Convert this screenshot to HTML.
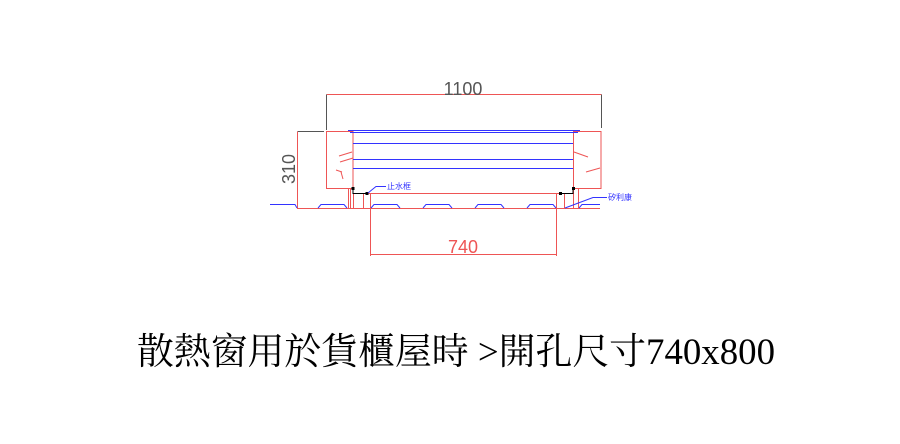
<!DOCTYPE html>
<html><head><meta charset="utf-8"><style>
html,body{margin:0;padding:0;background:#fff;width:900px;height:444px;overflow:hidden}
svg{display:block}
</style></head><body>
<svg width="900" height="444" viewBox="0 0 900 444" xmlns="http://www.w3.org/2000/svg">
<g fill="none" stroke-width="1">
<!-- dimension 1100 -->
<line x1="326.5" y1="94.5" x2="601.5" y2="94.5" stroke="#e55"/>
<line x1="326.5" y1="94.5" x2="326.5" y2="130" stroke="#555"/>
<line x1="601.5" y1="94.5" x2="601.5" y2="128" stroke="#555"/>
<!-- dimension 310 -->
<line x1="297.5" y1="131.5" x2="324" y2="131.5" stroke="#555"/>
<line x1="297.5" y1="131.5" x2="297.5" y2="208" stroke="#e55"/>
<line x1="297" y1="208.5" x2="340" y2="208.5" stroke="#555"/>
<!-- left box -->
<rect x="326.5" y="131.5" width="26.5" height="57" stroke="#e55"/>
<line x1="339" y1="156" x2="352" y2="152" stroke="#e55"/>
<line x1="336" y1="170" x2="342" y2="172" stroke="#e55"/>
<line x1="341" y1="172" x2="343" y2="179" stroke="#e55"/>
<line x1="353" y1="158" x2="340" y2="162" stroke="#e55"/>
<!-- right box -->
<rect x="573.5" y="131.5" width="27.5" height="57" stroke="#e55"/>
<line x1="574" y1="152" x2="588" y2="157" stroke="#e55"/>
<line x1="586" y1="172" x2="600" y2="168" stroke="#e55"/>
<!-- blue body lines -->
<line x1="348" y1="130.5" x2="580" y2="130.5" stroke="#33f"/>
<line x1="350" y1="132.5" x2="578" y2="132.5" stroke="#33f"/>
<line x1="353" y1="143.5" x2="573" y2="143.5" stroke="#33f"/>
<line x1="353" y1="159.5" x2="573" y2="159.5" stroke="#33f"/>
<line x1="353" y1="168.5" x2="573" y2="168.5" stroke="#33f"/>
<!-- opening frame -->
<line x1="353" y1="193.5" x2="573" y2="193.5" stroke="#e55"/>
<line x1="297" y1="208.5" x2="600" y2="208.5" stroke="#e55"/>
<line x1="348.5" y1="188" x2="348.5" y2="208" stroke="#e55"/>
<line x1="350.5" y1="188" x2="350.5" y2="208" stroke="#e55"/>
<line x1="353.5" y1="193" x2="353.5" y2="208" stroke="#e55"/>
<line x1="363.5" y1="193" x2="363.5" y2="208" stroke="#e55"/>
<line x1="370.5" y1="193" x2="370.5" y2="256" stroke="#e55"/>
<line x1="556.5" y1="193" x2="556.5" y2="256" stroke="#e55"/>
<line x1="564.5" y1="193" x2="564.5" y2="208" stroke="#e55"/>
<line x1="573.5" y1="188" x2="573.5" y2="208" stroke="#e55"/>
<line x1="578.5" y1="188" x2="578.5" y2="208" stroke="#e55"/>
<!-- black brackets -->
<polyline points="353,188 353,193.5 367,193.5" stroke="#000"/>
<polyline points="560,193.5 573,193.5 573,188" stroke="#000"/>
<rect x="351.5" y="187" width="3" height="3" fill="#000" stroke="none"/>
<rect x="365.5" y="192" width="3" height="3" fill="#000" stroke="none"/>
<rect x="559" y="192" width="3" height="3" fill="#000" stroke="none"/>
<rect x="572" y="187" width="3" height="3" fill="#000" stroke="none"/>
<!-- roof profile blue -->
<polyline points="270,204.5 295,204.5 297,208" stroke="#33f"/>
<polyline points="318,208 321,204.5 344,204.5 347,208" stroke="#33f"/>
<polyline points="371,208 374,204.5 397,204.5 400,208" stroke="#33f"/>
<polyline points="423,208 426,204.5 449,204.5 452,208" stroke="#33f"/>
<polyline points="475,208 478,204.5 501,204.5 504,208" stroke="#33f"/>
<polyline points="527,208 530,204.5 553,204.5 556,208" stroke="#33f"/>
<polyline points="579,208 582,204.5 600,204.5" stroke="#33f"/>
<!-- leaders -->
<polyline points="368,193 376,186.5 386,186.5" stroke="#33f"/>
<polyline points="565,208 593,197.5 607,197.5" stroke="#33f"/>
<!-- 740 dim -->
<line x1="370.5" y1="254.5" x2="556.5" y2="254.5" stroke="#e55"/>
</g>
<g font-family="Liberation Sans, sans-serif" font-weight="300" fill="#555">
<text x="463" y="95" font-size="18" text-anchor="middle">1100</text>
<text x="463" y="253" font-size="18" text-anchor="middle" fill="#e55">740</text>
<text transform="translate(297,169) rotate(-90)" font-size="18" text-anchor="middle" dy="-2">310</text>
</g>
<g font-family="Liberation Sans, 'Noto Sans CJK TC', sans-serif" font-size="8" fill="#33f">
<text x="387" y="189">止水框</text>
<text x="608" y="200">矽利康</text>
</g>
<text x="137" y="364" font-family="'Liberation Serif','Noto Serif CJK SC',serif" font-size="37" fill="#000" textLength="638" lengthAdjust="spacingAndGlyphs">散熱窗用於貨櫃屋時 &gt;開孔尺寸740x800</text>
</svg>
</body></html>
